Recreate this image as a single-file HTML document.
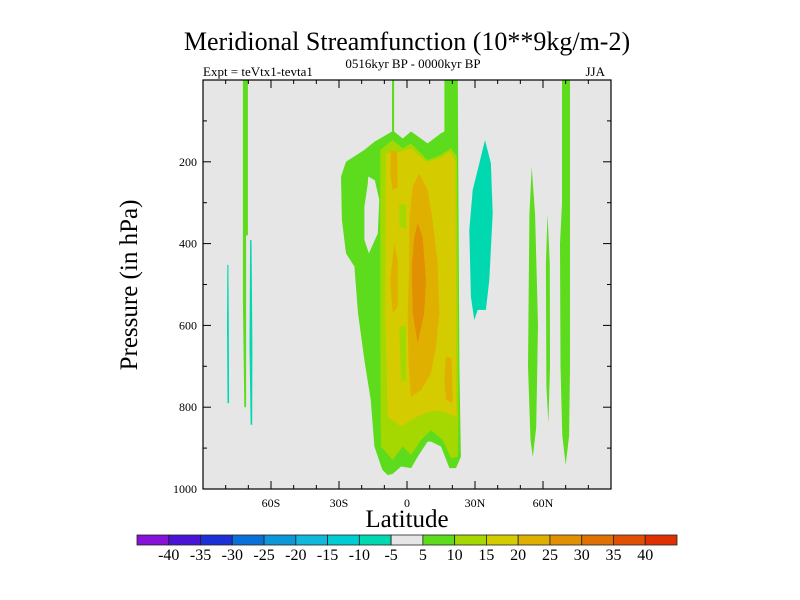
<!DOCTYPE html>
<html><head><meta charset="utf-8"><style>
html,body{margin:0;padding:0;background:#fff;}
svg{display:block;font-family:"Liberation Serif",serif;}
</style></head><body>
<svg id="chart" width="800" height="600" viewBox="0 0 800 600" xmlns="http://www.w3.org/2000/svg">
<text x="407" y="50" text-anchor="middle" font-size="26">Meridional Streamfunction (10**9kg/m-2)</text>
<text x="413" y="68" text-anchor="middle" font-size="13">0516kyr BP - 0000kyr BP</text>
<text x="203" y="76" font-size="13">Expt = teVtx1-tevta1</text>
<text x="605" y="76" text-anchor="end" font-size="13">JJA</text>
<rect x="203" y="80" width="408" height="409" fill="#e6e6e6"/>
<g id="contours"></g>
<g id="axes"></g>
<text x="407" y="527" text-anchor="middle" font-size="25">Latitude</text>
<text transform="translate(137,285) rotate(-90)" text-anchor="middle" font-size="25">Pressure (in hPa)</text>
<g id="colorbar"></g>
</svg>
<script>
const levels = [-40,-35,-30,-25,-20,-15,-10,-5,5,10,15,20,25,30,35,40];
const levelColors = ["#8712d8","#4a14d8","#1c30d8","#0870d8","#0c98d8","#10b8dc","#00ccd4","#00d8b0","#e6e6e6","#5cdc1c","#a4d800","#d4cc00","#e0b000","#e09000","#e07000","#e05000","#e03000"];
const xTickLabels = ["60S","30S","0","30N","60N"];
const xTickValues = [-60,-30,0,30,60];
const yTickValues = [200,400,600,800,1000];
// contour regions: value-band index (into levelColors) + polygon in [lat, hPa]
const regionLevels = [9,8,10,11,10,10,12,12,12,12,13,7,9,7,7,9,9,9];
const regionShapes = [
 [[-6.6,0],[-6.6,126],[-14.4,151],[-18.8,171],[-26.9,200],[-29.1,236],[-28.7,342],[-26.9,424],[-23.2,456],[-21.6,570],[-18.8,685],[-16.0,782],[-14.4,896],[-10.9,953],[-8.5,966],[-6.3,963],[-2.6,945],[1.8,949],[4.7,921],[9.1,884],[10.6,884],[15,896],[18.7,949],[21.6,949],[23.8,921],[23.1,700],[22.4,0],[16.5,0],[16.5,126],[15,130],[9.1,155],[1.8,126],[-1.9,143],[-5.7,126],[-5.7,0]],
 [[-17.1,236],[-14.2,245],[-12.2,293],[-12.9,375],[-16.8,424],[-18.8,391],[-18.8,310],[-17.3,253]],
 [[-11.8,171],[-6.3,147],[-1.9,167],[1.8,155],[9.1,196],[15,183],[19.4,167],[22,187],[22.4,489],[22.7,815],[22.4,921],[19.4,925],[15.7,880],[10.6,856],[6.2,880],[1.8,917],[-1.9,896],[-6.3,929],[-11.5,896],[-11.8,652]],
 [[-9.3,179],[-2.6,175],[1.8,167],[8.4,200],[15,191],[18.7,175],[21.3,196],[21.6,489],[21.8,823],[18,815],[13.5,807],[7.6,815],[1.8,831],[-2.6,848],[-8.5,823],[-9.6,570]],
 [[-3.4,302],[-0.4,306],[-0.4,363],[-3.4,359]],
 [[-3.4,603],[-0.4,603],[-0.4,733],[-2.6,738]],
 [[-7.1,171],[-4.4,175],[-4.1,261],[-6.3,269],[-7.4,228]],
 [[-5.6,399],[-4.1,440],[-4.1,554],[-6.3,570],[-7.4,489]],
 [[5.4,228],[9.1,269],[11.3,342],[13.5,448],[14.3,570],[12.8,652],[10.6,717],[6.2,758],[1.8,774],[0.6,693],[0.3,570],[1.0,448],[1.0,342],[2.5,261]],
 [[17.2,676],[19.7,680],[20.2,790],[17.2,782],[16.5,733]],
 [[4.7,350],[6.9,383],[8.4,489],[7.6,570],[4.7,644],[2.5,570],[2.1,456],[3.2,383]],
 [[34.4,147],[37,204],[37.8,326],[36.3,489],[34.8,562],[31.2,562],[29.7,587],[28.2,530],[27.5,367],[29,269],[31.9,204]],
 [[-72.4,0],[-70.2,0],[-70.2,380],[-71,380],[-71,800],[-71.8,800],[-72.4,540]],
 [[-79.3,452],[-78.8,452],[-78.6,600],[-78.5,790],[-79.2,790],[-79.4,600]],
 [[-69.2,391],[-68.6,391],[-68.2,650],[-68.3,843],[-69.0,843],[-69.5,650]],
 [[55,213],[56.5,330],[57.8,600],[57,850],[55.5,922],[54.5,880],[53.4,700],[54,330]],
 [[62,328],[63,450],[63.1,700],[62.4,839],[61.5,750],[61.3,450]],
 [[68.4,0],[71.9,0],[71.9,700],[71.5,870],[70,941],[68.5,870],[67.7,700],[67.5,400],[68.4,300]]
];
const NS="http://www.w3.org/2000/svg";
const X0=203,X1=611,Y0=80,Y1=489;
function xScale(lat){return X0+(lat+90)/180*(X1-X0);}
function yScale(p){return Y0+p/1000*(Y1-Y0);}
const cg=document.getElementById('contours');
regionShapes.forEach((shape,i)=>{
  const pg=document.createElementNS(NS,'polygon');
  pg.setAttribute('points',shape.map(d=>xScale(d[0]).toFixed(1)+','+yScale(d[1]).toFixed(1)).join(' '));
  pg.setAttribute('fill',levelColors[regionLevels[i]]);
  
  
  cg.appendChild(pg);
});
const ax=document.getElementById('axes');
function line(x1,y1,x2,y2,w){const l=document.createElementNS(NS,'line');l.setAttribute('x1',x1);l.setAttribute('y1',y1);l.setAttribute('x2',x2);l.setAttribute('y2',y2);l.setAttribute('stroke','#000');l.setAttribute('stroke-width',w||1);


ax.appendChild(l);}
for(let lat=-80;lat<=80;lat+=10){const x=xScale(lat);const L=(lat%30===0)?8:4;line(x,Y1,x,Y1-L);line(x,Y0,x,Y0+L);}
for(let p=100;p<1000;p+=100){const y=yScale(p);const L=(p%200===0)?8:4;line(X0,y,X0+L,y);line(X1,y,X1-L,y);}
const fr=document.createElementNS(NS,'rect');
fr.setAttribute('x',X0);fr.setAttribute('y',Y0);fr.setAttribute('width',X1-X0);fr.setAttribute('height',Y1-Y0);fr.setAttribute('fill','none');fr.setAttribute('stroke','#000');fr.setAttribute('stroke-width','1.2');


ax.appendChild(fr);
xTickValues.forEach((v,i)=>{const t=document.createElementNS(NS,'text');t.setAttribute('x',xScale(v));t.setAttribute('y',Y1+18);t.setAttribute('text-anchor','middle');t.setAttribute('font-size','12');t.textContent=xTickLabels[i];


ax.appendChild(t);});
yTickValues.forEach(v=>{const t=document.createElementNS(NS,'text');t.setAttribute('x',X0-6);t.setAttribute('y',yScale(v)+4);t.setAttribute('text-anchor','end');t.setAttribute('font-size','12');t.textContent=v;


ax.appendChild(t);});
const cb=document.getElementById('colorbar');
const CB0=137,CBW=540/17,CBY=535,CBH=10;
levelColors.forEach((c,i)=>{const r=document.createElementNS(NS,'rect');r.setAttribute('x',CB0+i*CBW);r.setAttribute('y',CBY);r.setAttribute('width',CBW);r.setAttribute('height',CBH);r.setAttribute('fill',c);r.setAttribute('stroke','#222');r.setAttribute('stroke-width','0.8');


cb.appendChild(r);});
levels.forEach((v,i)=>{const t=document.createElementNS(NS,'text');t.setAttribute('x',CB0+(i+1)*CBW);t.setAttribute('y',CBY+CBH+15);t.setAttribute('text-anchor','middle');t.setAttribute('font-size','16');t.textContent=v;


cb.appendChild(t);});
</script>
</body></html>
